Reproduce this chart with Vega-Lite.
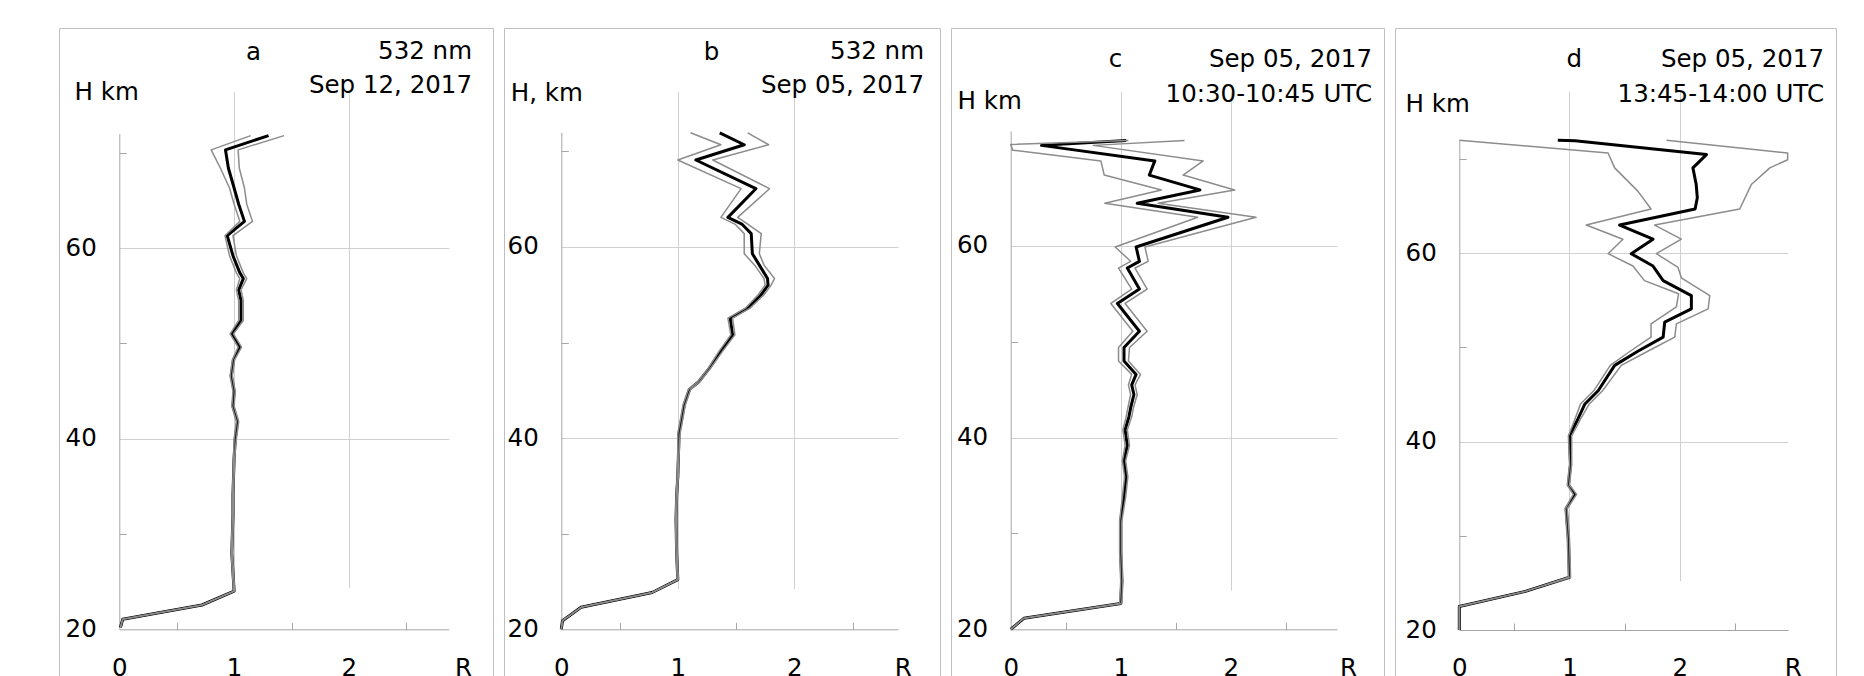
{
  "$schema": "https://vega.github.io/schema/vega-lite/v6.json",
  "background": "white",
  "padding": {"left": 58, "top": 27, "right": 0, "bottom": 0},
  "autosize": {"type": "pad"},
  "spacing": 9,
  "config": {
    "view": {"stroke": "#bfbfbf", "strokeWidth": 1},
    "title": {"font": "DejaVu Sans", "fontSize": 24.5, "fontWeight": "normal", "color": "#000000", "subtitleFont": "DejaVu Sans", "subtitleFontSize": 24.5, "subtitleColor": "#000000", "anchor": "end", "frame": "group"},
    "axis": {
      "labelFont": "DejaVu Sans", "labelFontSize": 24.5, "labelColor": "#000000",
      "titleFont": "DejaVu Sans", "titleFontSize": 24.5, "titleFontWeight": "normal", "titleColor": "#000000",
      "titleAngle": 0, "titleBaseline": "alphabetic",
      "domainColor": "#a6a6a6", "domainWidth": 1, "tickColor": "#a6a6a6", "tickWidth": 1, "tickSize": -7,
      "gridColor": "#d0d0d0", "gridWidth": 1, "labelFlush": false, "labelOverlap": false, "format": "d"
    },
    "axisX": {"labelBaseline": "alphabetic", "titleAlign": "center"},
    "axisY": {"titleAlign": "left"}
  },
  "datasets": {
    "d": [
      {"p":"a","s":"m","H":20.2,"R":0.01},{"p":"a","s":"m","H":21.05,"R":0.03},{"p":"a","s":"m","H":22.55,"R":0.72},{"p":"a","s":"m","H":24,"R":1.0},{"p":"a","s":"m","H":26,"R":0.99},{"p":"a","s":"m","H":28,"R":0.98},{"p":"a","s":"m","H":30,"R":0.985},{"p":"a","s":"m","H":32,"R":0.99},{"p":"a","s":"m","H":34,"R":0.99},{"p":"a","s":"m","H":36,"R":0.995},{"p":"a","s":"m","H":38,"R":1.0},{"p":"a","s":"m","H":40,"R":1.01},{"p":"a","s":"m","H":41.8,"R":1.03},{"p":"a","s":"m","H":43.4,"R":0.99},{"p":"a","s":"m","H":45,"R":1.0},{"p":"a","s":"m","H":46.6,"R":0.975},{"p":"a","s":"m","H":48.3,"R":0.995},{"p":"a","s":"m","H":49.6,"R":1.05},{"p":"a","s":"m","H":51,"R":0.98},{"p":"a","s":"m","H":52.4,"R":1.06},{"p":"a","s":"m","H":54.5,"R":1.06},{"p":"a","s":"m","H":55.6,"R":1.04},{"p":"a","s":"m","H":56.8,"R":1.08},{"p":"a","s":"m","H":57.4,"R":1.05},{"p":"a","s":"m","H":59.2,"R":0.99},{"p":"a","s":"m","H":61.3,"R":0.94},{"p":"a","s":"m","H":62.8,"R":1.09},{"p":"a","s":"m","H":64.6,"R":1.04},{"p":"a","s":"m","H":66.3,"R":1.0},{"p":"a","s":"m","H":68.4,"R":0.95},{"p":"a","s":"m","H":70.3,"R":0.925},{"p":"a","s":"m","H":71.8,"R":1.3},
      {"p":"a","s":"lo","H":20.2,"R":0.01},{"p":"a","s":"lo","H":21.05,"R":0.03},{"p":"a","s":"lo","H":22.55,"R":0.72},{"p":"a","s":"lo","H":24,"R":0.995},{"p":"a","s":"lo","H":26,"R":0.985},{"p":"a","s":"lo","H":28,"R":0.975},{"p":"a","s":"lo","H":30,"R":0.98},{"p":"a","s":"lo","H":32,"R":0.985},{"p":"a","s":"lo","H":34,"R":0.985},{"p":"a","s":"lo","H":36,"R":0.99},{"p":"a","s":"lo","H":38,"R":0.995},{"p":"a","s":"lo","H":40,"R":1.0},{"p":"a","s":"lo","H":41.8,"R":1.02},{"p":"a","s":"lo","H":43.4,"R":0.98},{"p":"a","s":"lo","H":45,"R":0.99},{"p":"a","s":"lo","H":46.6,"R":0.965},{"p":"a","s":"lo","H":48.3,"R":0.985},{"p":"a","s":"lo","H":49.6,"R":1.035},{"p":"a","s":"lo","H":51,"R":0.965},{"p":"a","s":"lo","H":52.4,"R":1.04},{"p":"a","s":"lo","H":54.5,"R":1.04},{"p":"a","s":"lo","H":55.6,"R":1.02},{"p":"a","s":"lo","H":56.8,"R":1.05},{"p":"a","s":"lo","H":57.4,"R":1.02},{"p":"a","s":"lo","H":59.2,"R":0.96},{"p":"a","s":"lo","H":61.3,"R":0.92},{"p":"a","s":"lo","H":62.8,"R":1.05},{"p":"a","s":"lo","H":64.6,"R":1.0},{"p":"a","s":"lo","H":66.3,"R":0.96},{"p":"a","s":"lo","H":68.4,"R":0.88},{"p":"a","s":"lo","H":69.6,"R":0.83},{"p":"a","s":"lo","H":70.3,"R":0.8},{"p":"a","s":"lo","H":71.8,"R":1.145},
      {"p":"a","s":"hi","H":20.2,"R":0.01},{"p":"a","s":"hi","H":21.05,"R":0.03},{"p":"a","s":"hi","H":22.55,"R":0.72},{"p":"a","s":"hi","H":24,"R":1.005},{"p":"a","s":"hi","H":26,"R":0.995},{"p":"a","s":"hi","H":28,"R":0.985},{"p":"a","s":"hi","H":30,"R":0.99},{"p":"a","s":"hi","H":32,"R":0.995},{"p":"a","s":"hi","H":34,"R":0.995},{"p":"a","s":"hi","H":36,"R":1.0},{"p":"a","s":"hi","H":38,"R":1.005},{"p":"a","s":"hi","H":40,"R":1.02},{"p":"a","s":"hi","H":41.8,"R":1.04},{"p":"a","s":"hi","H":43.4,"R":1.0},{"p":"a","s":"hi","H":45,"R":1.01},{"p":"a","s":"hi","H":46.6,"R":0.985},{"p":"a","s":"hi","H":48.3,"R":1.005},{"p":"a","s":"hi","H":49.6,"R":1.065},{"p":"a","s":"hi","H":51,"R":0.995},{"p":"a","s":"hi","H":52.4,"R":1.08},{"p":"a","s":"hi","H":54.5,"R":1.08},{"p":"a","s":"hi","H":55.6,"R":1.06},{"p":"a","s":"hi","H":56.8,"R":1.11},{"p":"a","s":"hi","H":57.4,"R":1.08},{"p":"a","s":"hi","H":59.2,"R":1.02},{"p":"a","s":"hi","H":61.3,"R":0.99},{"p":"a","s":"hi","H":62.8,"R":1.16},{"p":"a","s":"hi","H":64.6,"R":1.11},{"p":"a","s":"hi","H":66.3,"R":1.09},{"p":"a","s":"hi","H":68.4,"R":1.045},{"p":"a","s":"hi","H":70.3,"R":1.035},{"p":"a","s":"hi","H":71.8,"R":1.435},

      {"p":"b","s":"m","H":20.0,"R":0.0},{"p":"b","s":"m","H":20.9,"R":0.01},{"p":"b","s":"m","H":22.3,"R":0.17},{"p":"b","s":"m","H":23.85,"R":0.78},{"p":"b","s":"m","H":25.2,"R":1.0},{"p":"b","s":"m","H":28,"R":0.99},{"p":"b","s":"m","H":31.5,"R":0.985},{"p":"b","s":"m","H":34,"R":0.99},{"p":"b","s":"m","H":36,"R":1.0},{"p":"b","s":"m","H":38,"R":1.005},{"p":"b","s":"m","H":40.5,"R":1.01},{"p":"b","s":"m","H":41.8,"R":1.03},{"p":"b","s":"m","H":43.5,"R":1.055},{"p":"b","s":"m","H":45.1,"R":1.1},{"p":"b","s":"m","H":45.9,"R":1.18},{"p":"b","s":"m","H":47.3,"R":1.27},{"p":"b","s":"m","H":49.1,"R":1.37},{"p":"b","s":"m","H":50.8,"R":1.47},{"p":"b","s":"m","H":52.55,"R":1.45},{"p":"b","s":"m","H":53.6,"R":1.6},{"p":"b","s":"m","H":55.0,"R":1.715},{"p":"b","s":"m","H":56.0,"R":1.775},{"p":"b","s":"m","H":56.7,"R":1.77},{"p":"b","s":"m","H":58.1,"R":1.7},{"p":"b","s":"m","H":59.3,"R":1.64},{"p":"b","s":"m","H":61.4,"R":1.63},{"p":"b","s":"m","H":62.4,"R":1.55},{"p":"b","s":"m","H":63.1,"R":1.43},{"p":"b","s":"m","H":66.1,"R":1.67},{"p":"b","s":"m","H":69.1,"R":1.155},{"p":"b","s":"m","H":70.7,"R":1.57},{"p":"b","s":"m","H":71.95,"R":1.36},
      {"p":"b","s":"lo","H":20.0,"R":0.0},{"p":"b","s":"lo","H":20.9,"R":0.01},{"p":"b","s":"lo","H":22.3,"R":0.17},{"p":"b","s":"lo","H":23.85,"R":0.78},{"p":"b","s":"lo","H":25.2,"R":0.995},{"p":"b","s":"lo","H":28,"R":0.985},{"p":"b","s":"lo","H":31.5,"R":0.98},{"p":"b","s":"lo","H":34,"R":0.985},{"p":"b","s":"lo","H":36,"R":0.995},{"p":"b","s":"lo","H":38,"R":1.0},{"p":"b","s":"lo","H":40.5,"R":1.0},{"p":"b","s":"lo","H":41.8,"R":1.02},{"p":"b","s":"lo","H":43.5,"R":1.045},{"p":"b","s":"lo","H":45.1,"R":1.09},{"p":"b","s":"lo","H":45.9,"R":1.17},{"p":"b","s":"lo","H":47.3,"R":1.26},{"p":"b","s":"lo","H":49.1,"R":1.355},{"p":"b","s":"lo","H":50.8,"R":1.455},{"p":"b","s":"lo","H":52.55,"R":1.43},{"p":"b","s":"lo","H":53.6,"R":1.58},{"p":"b","s":"lo","H":55.0,"R":1.69},{"p":"b","s":"lo","H":56.0,"R":1.75},{"p":"b","s":"lo","H":56.7,"R":1.74},{"p":"b","s":"lo","H":58.1,"R":1.66},{"p":"b","s":"lo","H":59.3,"R":1.57},{"p":"b","s":"lo","H":61.4,"R":1.57},{"p":"b","s":"lo","H":62.4,"R":1.49},{"p":"b","s":"lo","H":63.1,"R":1.37},{"p":"b","s":"lo","H":66.1,"R":1.543},{"p":"b","s":"lo","H":69.1,"R":1.0},{"p":"b","s":"lo","H":70.7,"R":1.37},{"p":"b","s":"lo","H":71.95,"R":1.11},
      {"p":"b","s":"hi","H":20.0,"R":0.0},{"p":"b","s":"hi","H":20.9,"R":0.01},{"p":"b","s":"hi","H":22.3,"R":0.17},{"p":"b","s":"hi","H":23.85,"R":0.78},{"p":"b","s":"hi","H":25.2,"R":1.005},{"p":"b","s":"hi","H":28,"R":0.995},{"p":"b","s":"hi","H":31.5,"R":0.99},{"p":"b","s":"hi","H":34,"R":0.995},{"p":"b","s":"hi","H":36,"R":1.005},{"p":"b","s":"hi","H":38,"R":1.01},{"p":"b","s":"hi","H":40.5,"R":1.02},{"p":"b","s":"hi","H":41.8,"R":1.04},{"p":"b","s":"hi","H":43.5,"R":1.065},{"p":"b","s":"hi","H":45.1,"R":1.11},{"p":"b","s":"hi","H":45.9,"R":1.19},{"p":"b","s":"hi","H":47.3,"R":1.28},{"p":"b","s":"hi","H":49.1,"R":1.385},{"p":"b","s":"hi","H":50.8,"R":1.49},{"p":"b","s":"hi","H":52.55,"R":1.47},{"p":"b","s":"hi","H":53.6,"R":1.62},{"p":"b","s":"hi","H":55.0,"R":1.74},{"p":"b","s":"hi","H":56.0,"R":1.8},{"p":"b","s":"hi","H":56.7,"R":1.83},{"p":"b","s":"hi","H":58.1,"R":1.74},{"p":"b","s":"hi","H":59.3,"R":1.7},{"p":"b","s":"hi","H":61.4,"R":1.716},{"p":"b","s":"hi","H":62.4,"R":1.6},{"p":"b","s":"hi","H":63.1,"R":1.514},{"p":"b","s":"hi","H":66.1,"R":1.787},{"p":"b","s":"hi","H":69.1,"R":1.3},{"p":"b","s":"hi","H":70.7,"R":1.78},{"p":"b","s":"hi","H":71.95,"R":1.6},

      {"p":"c","s":"m","H":20.0,"R":0.0},{"p":"c","s":"m","H":21.15,"R":0.12},{"p":"c","s":"m","H":22.7,"R":1.0},{"p":"c","s":"m","H":25,"R":1.01},{"p":"c","s":"m","H":28,"R":1.0},{"p":"c","s":"m","H":31.3,"R":1.0},{"p":"c","s":"m","H":33.8,"R":1.03},{"p":"c","s":"m","H":35.9,"R":1.05},{"p":"c","s":"m","H":37.6,"R":1.03},{"p":"c","s":"m","H":39.2,"R":1.06},{"p":"c","s":"m","H":40.8,"R":1.04},{"p":"c","s":"m","H":42.2,"R":1.075},{"p":"c","s":"m","H":43.1,"R":1.09},{"p":"c","s":"m","H":44.5,"R":1.12},{"p":"c","s":"m","H":45.5,"R":1.1},{"p":"c","s":"m","H":46.6,"R":1.14},{"p":"c","s":"m","H":48.0,"R":1.03},{"p":"c","s":"m","H":49.4,"R":1.03},{"p":"c","s":"m","H":51.1,"R":1.17},{"p":"c","s":"m","H":54.0,"R":0.97},{"p":"c","s":"m","H":55.5,"R":1.17},{"p":"c","s":"m","H":57.7,"R":1.06},{"p":"c","s":"m","H":58.4,"R":1.17},{"p":"c","s":"m","H":59.9,"R":1.14},{"p":"c","s":"m","H":63.0,"R":1.975},{"p":"c","s":"m","H":64.46,"R":1.15},{"p":"c","s":"m","H":65.85,"R":1.72},{"p":"c","s":"m","H":67.4,"R":1.26},{"p":"c","s":"m","H":68.88,"R":1.31},{"p":"c","s":"m","H":70.5,"R":0.28},{"p":"c","s":"m","H":71.0,"R":1.05},
      {"p":"c","s":"lo","H":20.0,"R":0.0},{"p":"c","s":"lo","H":21.15,"R":0.12},{"p":"c","s":"lo","H":22.7,"R":0.99},{"p":"c","s":"lo","H":25,"R":1.0},{"p":"c","s":"lo","H":28,"R":0.99},{"p":"c","s":"lo","H":31.3,"R":0.99},{"p":"c","s":"lo","H":33.8,"R":1.015},{"p":"c","s":"lo","H":35.9,"R":1.035},{"p":"c","s":"lo","H":37.6,"R":1.015},{"p":"c","s":"lo","H":39.2,"R":1.04},{"p":"c","s":"lo","H":40.8,"R":1.02},{"p":"c","s":"lo","H":42.2,"R":1.05},{"p":"c","s":"lo","H":43.1,"R":1.065},{"p":"c","s":"lo","H":44.5,"R":1.09},{"p":"c","s":"lo","H":45.5,"R":1.07},{"p":"c","s":"lo","H":46.6,"R":1.1},{"p":"c","s":"lo","H":48.0,"R":0.98},{"p":"c","s":"lo","H":49.4,"R":0.98},{"p":"c","s":"lo","H":51.1,"R":1.11},{"p":"c","s":"lo","H":54.0,"R":0.91},{"p":"c","s":"lo","H":55.5,"R":1.1},{"p":"c","s":"lo","H":57.7,"R":0.98},{"p":"c","s":"lo","H":58.4,"R":1.09},{"p":"c","s":"lo","H":59.9,"R":0.95},{"p":"c","s":"lo","H":63.0,"R":1.7},{"p":"c","s":"lo","H":64.46,"R":0.855},{"p":"c","s":"lo","H":65.85,"R":1.37},{"p":"c","s":"lo","H":67.4,"R":0.85},{"p":"c","s":"lo","H":68.88,"R":0.82},{"p":"c","s":"lo","H":70.0,"R":0.02},{"p":"c","s":"lo","H":70.6,"R":0.0},{"p":"c","s":"lo","H":71.0,"R":1.07},
      {"p":"c","s":"hi","H":20.0,"R":0.0},{"p":"c","s":"hi","H":21.15,"R":0.12},{"p":"c","s":"hi","H":22.7,"R":1.01},{"p":"c","s":"hi","H":25,"R":1.02},{"p":"c","s":"hi","H":28,"R":1.01},{"p":"c","s":"hi","H":31.3,"R":1.01},{"p":"c","s":"hi","H":33.8,"R":1.045},{"p":"c","s":"hi","H":35.9,"R":1.065},{"p":"c","s":"hi","H":37.6,"R":1.045},{"p":"c","s":"hi","H":39.2,"R":1.08},{"p":"c","s":"hi","H":40.8,"R":1.06},{"p":"c","s":"hi","H":42.2,"R":1.1},{"p":"c","s":"hi","H":43.1,"R":1.115},{"p":"c","s":"hi","H":44.5,"R":1.15},{"p":"c","s":"hi","H":45.5,"R":1.13},{"p":"c","s":"hi","H":46.6,"R":1.18},{"p":"c","s":"hi","H":48.0,"R":1.07},{"p":"c","s":"hi","H":49.4,"R":1.08},{"p":"c","s":"hi","H":51.1,"R":1.24},{"p":"c","s":"hi","H":54.0,"R":1.04},{"p":"c","s":"hi","H":55.5,"R":1.24},{"p":"c","s":"hi","H":57.7,"R":1.13},{"p":"c","s":"hi","H":58.4,"R":1.25},{"p":"c","s":"hi","H":59.9,"R":1.22},{"p":"c","s":"hi","H":63.0,"R":2.23},{"p":"c","s":"hi","H":64.46,"R":1.34},{"p":"c","s":"hi","H":65.85,"R":2.036},{"p":"c","s":"hi","H":67.4,"R":1.567},{"p":"c","s":"hi","H":68.88,"R":1.75},{"p":"c","s":"hi","H":70.5,"R":0.75},{"p":"c","s":"hi","H":71.0,"R":1.58},

      {"p":"d","s":"m","H":20.0,"R":0.0},{"p":"d","s":"m","H":22.5,"R":0.0},{"p":"d","s":"m","H":24.1,"R":0.6},{"p":"d","s":"m","H":25.6,"R":1.0},{"p":"d","s":"m","H":29.7,"R":0.99},{"p":"d","s":"m","H":32.9,"R":0.97},{"p":"d","s":"m","H":34.4,"R":1.05},{"p":"d","s":"m","H":35.4,"R":0.99},{"p":"d","s":"m","H":37.6,"R":1.01},{"p":"d","s":"m","H":40.6,"R":1.0},{"p":"d","s":"m","H":42.4,"R":1.076},{"p":"d","s":"m","H":44.0,"R":1.14},{"p":"d","s":"m","H":45.4,"R":1.26},{"p":"d","s":"m","H":48.1,"R":1.41},{"p":"d","s":"m","H":49.6,"R":1.62},{"p":"d","s":"m","H":51.1,"R":1.85},{"p":"d","s":"m","H":52.7,"R":1.864},{"p":"d","s":"m","H":54.1,"R":2.106},{"p":"d","s":"m","H":55.5,"R":2.106},{"p":"d","s":"m","H":57.1,"R":1.85},{"p":"d","s":"m","H":58.65,"R":1.758},{"p":"d","s":"m","H":59.96,"R":1.56},{"p":"d","s":"m","H":61.5,"R":1.758},{"p":"d","s":"m","H":63.0,"R":1.455},{"p":"d","s":"m","H":64.7,"R":2.14},{"p":"d","s":"m","H":65.9,"R":2.16},{"p":"d","s":"m","H":67.3,"R":2.15},{"p":"d","s":"m","H":69.07,"R":2.12},{"p":"d","s":"m","H":70.48,"R":2.243},{"p":"d","s":"m","H":71.95,"R":1.05},{"p":"d","s":"m","H":72.0,"R":0.894},
      {"p":"d","s":"lo","H":20.0,"R":0.0},{"p":"d","s":"lo","H":22.5,"R":0.0},{"p":"d","s":"lo","H":24.1,"R":0.6},{"p":"d","s":"lo","H":25.6,"R":0.99},{"p":"d","s":"lo","H":29.7,"R":0.98},{"p":"d","s":"lo","H":32.9,"R":0.96},{"p":"d","s":"lo","H":34.4,"R":1.035},{"p":"d","s":"lo","H":35.4,"R":0.98},{"p":"d","s":"lo","H":37.6,"R":1.0},{"p":"d","s":"lo","H":40.6,"R":0.99},{"p":"d","s":"lo","H":42.4,"R":1.05},{"p":"d","s":"lo","H":44.0,"R":1.1},{"p":"d","s":"lo","H":45.4,"R":1.22},{"p":"d","s":"lo","H":48.1,"R":1.37},{"p":"d","s":"lo","H":49.6,"R":1.55},{"p":"d","s":"lo","H":51.1,"R":1.74},{"p":"d","s":"lo","H":52.5,"R":1.74},{"p":"d","s":"lo","H":54.3,"R":1.97},{"p":"d","s":"lo","H":55.7,"R":1.99},{"p":"d","s":"lo","H":57.1,"R":1.68},{"p":"d","s":"lo","H":58.65,"R":1.576},{"p":"d","s":"lo","H":59.96,"R":1.35},{"p":"d","s":"lo","H":61.5,"R":1.485},{"p":"d","s":"lo","H":63.0,"R":1.152},{"p":"d","s":"lo","H":64.7,"R":1.74},{"p":"d","s":"lo","H":66.6,"R":1.62},{"p":"d","s":"lo","H":69.07,"R":1.41},{"p":"d","s":"lo","H":70.65,"R":1.35},{"p":"d","s":"lo","H":72.0,"R":0.0},
      {"p":"d","s":"hi","H":20.0,"R":0.0},{"p":"d","s":"hi","H":22.5,"R":0.0},{"p":"d","s":"hi","H":24.1,"R":0.6},{"p":"d","s":"hi","H":25.6,"R":1.01},{"p":"d","s":"hi","H":29.7,"R":1.0},{"p":"d","s":"hi","H":32.9,"R":0.98},{"p":"d","s":"hi","H":34.4,"R":1.065},{"p":"d","s":"hi","H":35.4,"R":1.0},{"p":"d","s":"hi","H":37.6,"R":1.02},{"p":"d","s":"hi","H":40.6,"R":1.02},{"p":"d","s":"hi","H":42.4,"R":1.1},{"p":"d","s":"hi","H":44.0,"R":1.18},{"p":"d","s":"hi","H":45.4,"R":1.3},{"p":"d","s":"hi","H":48.1,"R":1.47},{"p":"d","s":"hi","H":49.6,"R":1.71},{"p":"d","s":"hi","H":51.1,"R":1.955},{"p":"d","s":"hi","H":52.5,"R":1.97},{"p":"d","s":"hi","H":54.1,"R":2.258},{"p":"d","s":"hi","H":55.5,"R":2.273},{"p":"d","s":"hi","H":57.4,"R":2.015},{"p":"d","s":"hi","H":58.5,"R":1.985},{"p":"d","s":"hi","H":59.96,"R":1.788},{"p":"d","s":"hi","H":61.5,"R":2.015},{"p":"d","s":"hi","H":63.0,"R":1.773},{"p":"d","s":"hi","H":64.7,"R":2.545},{"p":"d","s":"hi","H":67.3,"R":2.65},{"p":"d","s":"hi","H":69.07,"R":2.818},{"p":"d","s":"hi","H":69.94,"R":2.98},{"p":"d","s":"hi","H":70.65,"R":2.98},{"p":"d","s":"hi","H":72.0,"R":1.88}
    ]
  },
  "data": {"name": "d"},
  "hconcat": [
    {
      "width": 434, "height": 665,
      "title": {"text": "532 nm", "subtitle": "Sep 12, 2017", "dx": -21, "offset": -70.6, "subtitlePadding": 9.4},
      "transform": [{"filter": "datum.p === 'a'"}],
      "encoding": {
        "y": {"field": "H", "type": "quantitative", "scale": {"domain": [20, 72], "range": [601.3, 105.7], "nice": false, "zero": false},
          "axis": {"values": [20, 30, 40, 50, 60, 70], "offset": -60.3, "labelPadding": 30, "title": "H km", "titleX": -45.3, "titleY": 71.3,
            "labelExpr": "datum.value % 20 === 0 ? datum.label : ''",
            "grid": true, "gridOpacity": {"condition": {"test": "datum.value === 40 || datum.value === 60", "value": 1}, "value": 0},
            "tickOpacity": {"condition": {"test": "datum.value % 20 !== 0", "value": 1}, "value": 0}}},
        "order": {"field": "H", "type": "quantitative"}
      },
      "layer": [
        {"transform": [{"filter": "datum.s === 'm'"}],
         "mark": {"type": "line", "color": "#000000", "strokeWidth": 3, "strokeJoin": "round"},
         "encoding": {"x": {"field": "R", "type": "quantitative", "scale": {"domain": [0, 2.87], "range": [60.3, 389.8], "nice": false, "zero": false},
           "axis": {"values": [0, 0.5, 1, 1.5, 2, 2.5], "offset": -63.7, "labelPadding": 52.7, "title": "R", "titleX": 404, "titleY": 45.7,
             "labelExpr": "datum.value % 1 === 0 ? datum.label : ''",
             "grid": true, "gridOpacity": {"condition": {"test": "datum.value === 1 || datum.value === 2", "value": 1}, "value": 0},
             "tickOpacity": {"condition": {"test": "datum.value % 1 !== 0", "value": 1}, "value": 0}}}}},
        {"transform": [{"filter": "datum.s !== 'm'"}],
         "mark": {"type": "line", "color": "#8c8c8c", "strokeWidth": 1.5, "strokeJoin": "round"},
         "encoding": {"x": {"field": "R", "type": "quantitative", "scale": {"domain": [0, 2.87], "range": [60.3, 389.8], "nice": false, "zero": false},
           "axis": {"orient": "top", "offset": 0, "domain": false, "ticks": false, "labels": false, "grid": false, "title": "a", "titleX": 194, "titleY": 31.3}},
           "detail": {"field": "s"}}}
      ],
      "resolve": {"axis": {"x": "independent"}}
    },
    {
      "width": 436, "height": 665,
      "title": {"text": "532 nm", "subtitle": "Sep 05, 2017", "dx": -16, "offset": -70.6, "subtitlePadding": 9.4},
      "transform": [{"filter": "datum.p === 'b'"}],
      "encoding": {
        "y": {"field": "H", "type": "quantitative", "scale": {"domain": [20, 72], "range": [601.3, 104.3], "nice": false, "zero": false},
          "axis": {"values": [20, 30, 40, 50, 60, 70], "offset": -57.3, "labelPadding": 30, "title": "H, km", "titleX": -51, "titleY": 72,
            "labelExpr": "datum.value % 20 === 0 ? datum.label : ''",
            "grid": true, "gridOpacity": {"condition": {"test": "datum.value === 40 || datum.value === 60", "value": 1}, "value": 0},
            "tickOpacity": {"condition": {"test": "datum.value % 20 !== 0", "value": 1}, "value": 0}}},
        "order": {"field": "H", "type": "quantitative"}
      },
      "layer": [
        {"transform": [{"filter": "datum.s === 'm'"}],
         "mark": {"type": "line", "color": "#000000", "strokeWidth": 3, "strokeJoin": "round"},
         "encoding": {"x": {"field": "R", "type": "quantitative", "scale": {"domain": [0, 2.89], "range": [57.3, 394], "nice": false, "zero": false},
           "axis": {"values": [0, 0.5, 1, 1.5, 2, 2.5], "offset": -63.7, "labelPadding": 52.7, "title": "R", "titleX": 398.7, "titleY": 45.7,
             "labelExpr": "datum.value % 1 === 0 ? datum.label : ''",
             "grid": true, "gridOpacity": {"condition": {"test": "datum.value === 1 || datum.value === 2", "value": 1}, "value": 0},
             "tickOpacity": {"condition": {"test": "datum.value % 1 !== 0", "value": 1}, "value": 0}}}}},
        {"transform": [{"filter": "datum.s !== 'm'"}],
         "mark": {"type": "line", "color": "#8c8c8c", "strokeWidth": 1.5, "strokeJoin": "round"},
         "encoding": {"x": {"field": "R", "type": "quantitative", "scale": {"domain": [0, 2.89], "range": [57.3, 394], "nice": false, "zero": false},
           "axis": {"orient": "top", "offset": 0, "domain": false, "ticks": false, "labels": false, "grid": false, "title": "b", "titleX": 207, "titleY": 31.3}},
           "detail": {"field": "s"}}}
      ],
      "resolve": {"axis": {"x": "independent"}}
    },
    {
      "width": 433, "height": 665,
      "title": {"text": "Sep 05, 2017", "subtitle": "10:30-10:45 UTC", "dx": -12, "offset": -79.8, "subtitlePadding": 10.4},
      "transform": [{"filter": "datum.p === 'c'"}],
      "encoding": {
        "y": {"field": "H", "type": "quantitative", "scale": {"domain": [20, 72], "range": [601.3, 103], "nice": false, "zero": false},
          "axis": {"values": [20, 30, 40, 50, 60, 70], "offset": -59.7, "labelPadding": 30, "title": "H km", "titleX": -53.7, "titleY": 80.8,
            "labelExpr": "datum.value % 20 === 0 ? datum.label : ''",
            "grid": true, "gridOpacity": {"condition": {"test": "datum.value === 40 || datum.value === 60", "value": 1}, "value": 0},
            "tickOpacity": {"condition": {"test": "datum.value % 20 !== 0", "value": 1}, "value": 0}}},
        "order": {"field": "H", "type": "quantitative"}
      },
      "layer": [
        {"transform": [{"filter": "datum.s === 'm'"}],
         "mark": {"type": "line", "color": "#000000", "strokeWidth": 3, "strokeJoin": "round"},
         "encoding": {"x": {"field": "R", "type": "quantitative", "scale": {"domain": [0, 2.966], "range": [59.7, 386], "nice": false, "zero": false},
           "axis": {"values": [0, 0.5, 1, 1.5, 2, 2.5], "offset": -63.7, "labelPadding": 52.7, "title": "R", "titleX": 397, "titleY": 45.7,
             "labelExpr": "datum.value % 1 === 0 ? datum.label : ''",
             "grid": true, "gridOpacity": {"condition": {"test": "datum.value === 1 || datum.value === 2", "value": 1}, "value": 0},
             "tickOpacity": {"condition": {"test": "datum.value % 1 !== 0", "value": 1}, "value": 0}}}}},
        {"transform": [{"filter": "datum.s !== 'm'"}],
         "mark": {"type": "line", "color": "#8c8c8c", "strokeWidth": 1.5, "strokeJoin": "round"},
         "encoding": {"x": {"field": "R", "type": "quantitative", "scale": {"domain": [0, 2.966], "range": [59.7, 386], "nice": false, "zero": false},
           "axis": {"orient": "top", "offset": 0, "domain": false, "ticks": false, "labels": false, "grid": false, "title": "c", "titleX": 164, "titleY": 38.3}},
           "detail": {"field": "s"}}}
      ],
      "resolve": {"axis": {"x": "independent"}}
    },
    {
      "width": 441, "height": 665,
      "title": {"text": "Sep 05, 2017", "subtitle": "13:45-14:00 UTC", "dx": -12, "offset": -79.8, "subtitlePadding": 10.4},
      "transform": [{"filter": "datum.p === 'd'"}],
      "encoding": {
        "y": {"field": "H", "type": "quantitative", "scale": {"domain": [20, 72], "range": [602, 112.3], "nice": false, "zero": false},
          "axis": {"values": [20, 30, 40, 50, 60, 70], "offset": -64.3, "labelPadding": 30, "title": "H km", "titleX": -54.3, "titleY": 83,
            "labelExpr": "datum.value % 20 === 0 ? datum.label : ''",
            "grid": true, "gridOpacity": {"condition": {"test": "datum.value === 40 || datum.value === 60", "value": 1}, "value": 0},
            "tickOpacity": {"condition": {"test": "datum.value % 20 !== 0", "value": 1}, "value": 0}}},
        "order": {"field": "H", "type": "quantitative"}
      },
      "layer": [
        {"transform": [{"filter": "datum.s === 'm'"}],
         "mark": {"type": "line", "color": "#000000", "strokeWidth": 3, "strokeJoin": "round"},
         "encoding": {"x": {"field": "R", "type": "quantitative", "scale": {"domain": [0, 2.983], "range": [64.3, 393], "nice": false, "zero": false},
           "axis": {"values": [0, 0.5, 1, 1.5, 2, 2.5], "offset": -63, "labelPadding": 52.7, "title": "R", "titleX": 397.7, "titleY": 45,
             "labelExpr": "datum.value % 1 === 0 ? datum.label : ''",
             "grid": true, "gridOpacity": {"condition": {"test": "datum.value === 1 || datum.value === 2", "value": 1}, "value": 0},
             "tickOpacity": {"condition": {"test": "datum.value % 1 !== 0", "value": 1}, "value": 0}}}}},
        {"transform": [{"filter": "datum.s !== 'm'"}],
         "mark": {"type": "line", "color": "#8c8c8c", "strokeWidth": 1.5, "strokeJoin": "round"},
         "encoding": {"x": {"field": "R", "type": "quantitative", "scale": {"domain": [0, 2.983], "range": [64.3, 393], "nice": false, "zero": false},
           "axis": {"orient": "top", "offset": 0, "domain": false, "ticks": false, "labels": false, "grid": false, "title": "d", "titleX": 178.7, "titleY": 38.3}},
           "detail": {"field": "s"}}}
      ],
      "resolve": {"axis": {"x": "independent"}}
    }
  ]
}
